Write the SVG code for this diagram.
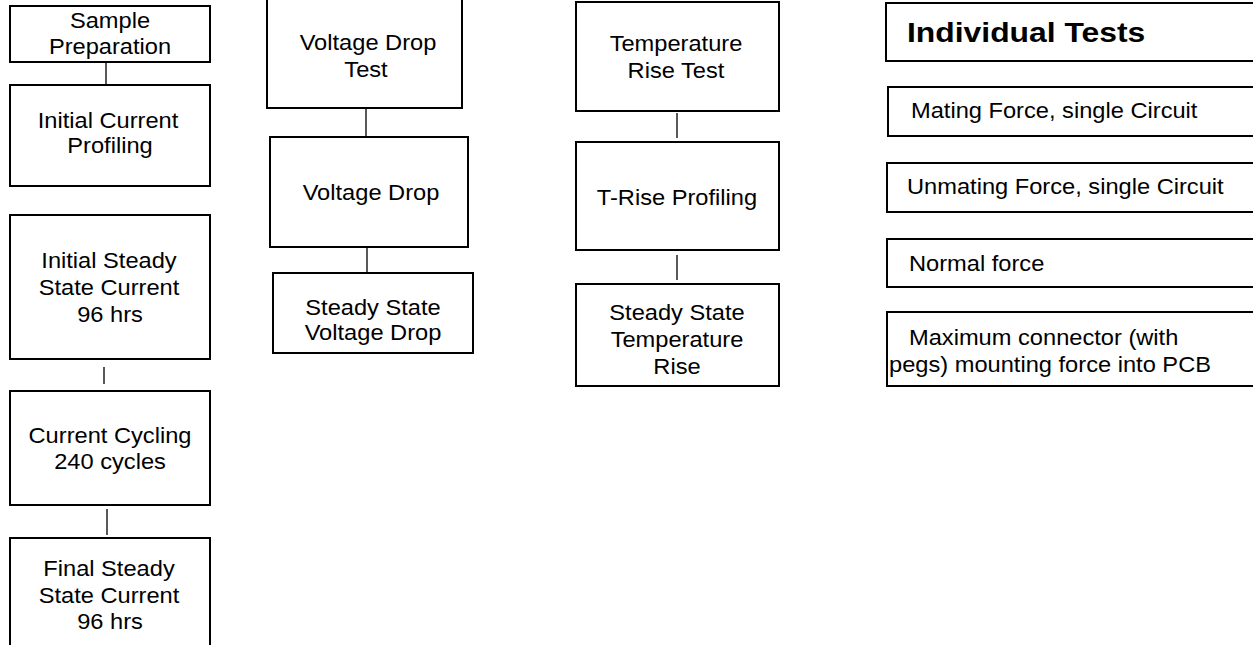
<svg xmlns="http://www.w3.org/2000/svg" width="1253" height="645" viewBox="0 0 1253 645">
<style>
rect.box{fill:#fff;stroke:#000;stroke-width:2}
.t{font-family:"Liberation Sans",Arial,sans-serif;font-size:21.5px;fill:#000}
.c{text-anchor:middle}
.b{font-weight:bold;font-size:27px}
.conn line{stroke:#222;stroke-width:1.5}
</style>
<rect width="1253" height="645" fill="#fff"/>
<g class="conn">
<line x1="106" y1="63" x2="106" y2="84"/>
<line x1="104" y1="367" x2="104" y2="384"/>
<line x1="107" y1="509" x2="107" y2="535"/>
<line x1="366" y1="108" x2="366" y2="136"/>
<line x1="367" y1="247" x2="367" y2="272"/>
<line x1="677" y1="113" x2="677" y2="138"/>
<line x1="677" y1="255" x2="677" y2="280"/>
</g>
<g id="sample-preparation"><rect class="box" x="10" y="6" width="200" height="56"/>
<text class="t c" transform="translate(110,28) scale(1.1,1)">Sample</text>
<text class="t c" transform="translate(110,54) scale(1.1,1)">Preparation</text></g>
<g id="initial-current-profiling"><rect class="box" x="10" y="85" width="200" height="101"/>
<text class="t c" transform="translate(108,128) scale(1.1,1)">Initial Current</text>
<text class="t c" transform="translate(110,153) scale(1.1,1)">Profiling</text></g>
<g id="initial-steady-state"><rect class="box" x="10" y="215" width="200" height="144"/>
<text class="t c" transform="translate(109,268) scale(1.1,1)">Initial Steady</text>
<text class="t c" transform="translate(109,295) scale(1.1,1)">State Current</text>
<text class="t c" transform="translate(110,322) scale(1.1,1)">96 hrs</text></g>
<g id="current-cycling"><rect class="box" x="10" y="391" width="200" height="114"/>
<text class="t c" transform="translate(110,443) scale(1.1,1)">Current Cycling</text>
<text class="t c" transform="translate(110,469) scale(1.1,1)">240 cycles</text></g>
<g id="final-steady-state"><rect class="box" x="10" y="538" width="200" height="130"/>
<text class="t c" transform="translate(109,576) scale(1.1,1)">Final Steady</text>
<text class="t c" transform="translate(109,603) scale(1.1,1)">State Current</text>
<text class="t c" transform="translate(110,629) scale(1.1,1)">96 hrs</text></g>
<g id="voltage-drop-test"><rect class="box" x="267" y="-5" width="195" height="113"/>
<text class="t c" transform="translate(368,50) scale(1.1,1)">Voltage Drop</text>
<text class="t c" transform="translate(366,77) scale(1.1,1)">Test</text></g>
<g id="voltage-drop"><rect class="box" x="270" y="137" width="198" height="110"/>
<text class="t c" transform="translate(371,200) scale(1.1,1)">Voltage Drop</text></g>
<g id="steady-state-voltage-drop"><rect class="box" x="273" y="273" width="200" height="80"/>
<text class="t c" transform="translate(373,315) scale(1.1,1)">Steady State</text>
<text class="t c" transform="translate(373,340) scale(1.1,1)">Voltage Drop</text></g>
<g id="temperature-rise-test"><rect class="box" x="576" y="2" width="203" height="109"/>
<text class="t c" transform="translate(676,51) scale(1.1,1)">Temperature</text>
<text class="t c" transform="translate(676,78) scale(1.1,1)">Rise Test</text></g>
<g id="t-rise-profiling"><rect class="box" x="576" y="142" width="203" height="108"/>
<text class="t c" transform="translate(677,205) scale(1.1,1)">T-Rise Profiling</text></g>
<g id="steady-state-temperature-rise"><rect class="box" x="576" y="284" width="203" height="102"/>
<text class="t c" transform="translate(677,320) scale(1.1,1)">Steady State</text>
<text class="t c" transform="translate(677,347) scale(1.1,1)">Temperature</text>
<text class="t c" transform="translate(677,374) scale(1.1,1)">Rise</text></g>
<g id="individual-tests"><rect class="box" x="886" y="3" width="380" height="58"/>
<text class="t b" transform="translate(907,42) scale(1.18,1)">Individual Tests</text></g>
<g id="mating-force"><rect class="box" x="888" y="87" width="380" height="49"/>
<text class="t" transform="translate(911,118) scale(1.1,1)">Mating Force, single Circuit</text></g>
<g id="unmating-force"><rect class="box" x="887" y="163" width="380" height="49"/>
<text class="t" transform="translate(907,194) scale(1.1,1)">Unmating Force, single Circuit</text></g>
<g id="normal-force"><rect class="box" x="887" y="239" width="380" height="48"/>
<text class="t" transform="translate(909,271) scale(1.1,1)">Normal force</text></g>
<g id="max-mounting-force"><rect class="box" x="887" y="312" width="380" height="74"/>
<text class="t" transform="translate(909,345) scale(1.1,1)">Maximum connector (with</text>
<text class="t" transform="translate(889,372) scale(1.1,1)">pegs) mounting force into PCB</text></g>
</svg>
